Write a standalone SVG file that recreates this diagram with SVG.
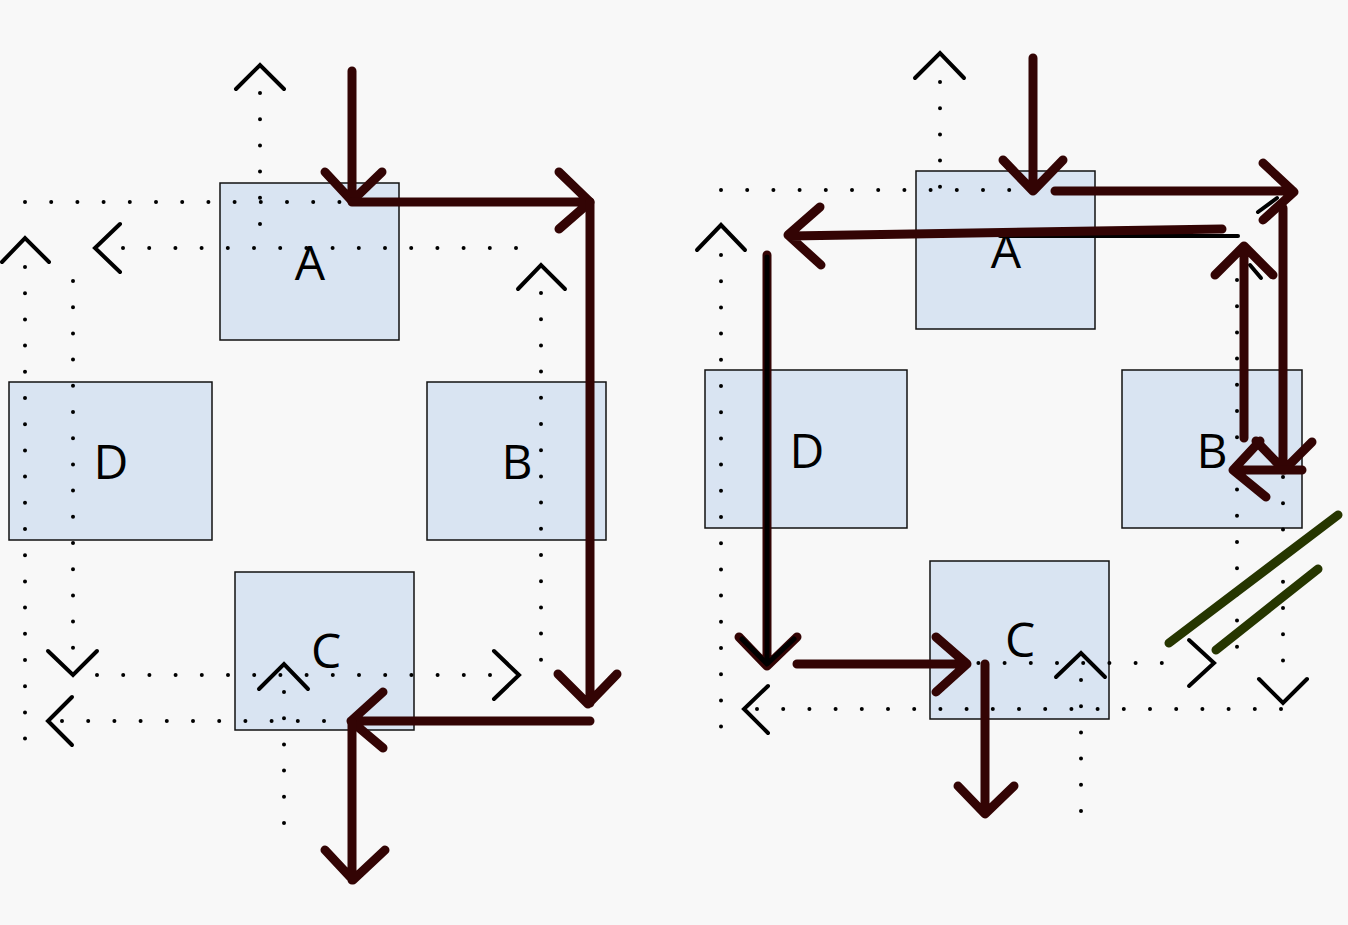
<svg xmlns="http://www.w3.org/2000/svg" width="1348" height="925" viewBox="0 0 1348 925">
<style>
.bg{fill:#f8f8f8}
.box{fill:#d9e4f2;stroke:#111;stroke-width:1.5}
.lbl{font-family:"Open Sans","Liberation Sans",sans-serif;font-size:48px;fill:#000;text-anchor:middle}
.dot{fill:none;stroke:#000;stroke-width:4;stroke-linecap:round;stroke-dasharray:0 26.2}
.chev{fill:none;stroke:#000;stroke-width:4;stroke-linecap:round;stroke-linejoin:miter}
.red{fill:none;stroke:#330404;stroke-width:9;stroke-linecap:round;stroke-linejoin:round}
.blk{fill:none;stroke:#000;stroke-width:4;stroke-linecap:round}
.grn{fill:none;stroke:#263600;stroke-width:9;stroke-linecap:round}
</style>
<rect class="bg" x="0" y="0" width="1348" height="925"/>

<!-- Left diagram nodes -->
<g id="L-A"><rect class="box" x="220" y="183" width="179" height="157"/><text class="lbl" x="310" y="280">A</text></g>
<g id="L-D"><rect class="box" x="9" y="382" width="203" height="158"/><text class="lbl" x="111" y="479">D</text></g>
<g id="L-B"><rect class="box" x="427" y="382" width="179" height="158"/><text class="lbl" x="517" y="479">B</text></g>
<g id="L-C"><rect class="box" x="235" y="572" width="179" height="158"/><text class="lbl" x="326" y="668">C</text></g>

<!-- Right diagram nodes -->
<g id="R-A"><rect class="box" x="916" y="171" width="179" height="158"/><text class="lbl" x="1006" y="268">A</text></g>
<g id="R-D"><rect class="box" x="705" y="370" width="202" height="158"/><text class="lbl" x="807" y="468">D</text></g>
<g id="R-B"><rect class="box" x="1122" y="370" width="180" height="158"/><text class="lbl" x="1212" y="468">B</text></g>
<g id="R-C"><rect class="box" x="930" y="561" width="179" height="158"/><text class="lbl" x="1020" y="657">C</text></g>

<g id="connectors">
  <!-- Left dotted paths -->
  <path class="dot" d="M25 202H590"/>
  <path class="dot" d="M123 248H517"/>
  <path class="dot" d="M260 93V225"/>
  <path class="dot" d="M25 267V740"/>
  <path class="dot" d="M73 281V649"/>
  <path class="dot" d="M97 675H491"/>
  <path class="dot" d="M62 721H590"/>
  <path class="dot" d="M284 692V824"/>
  <path class="dot" d="M541 293V660"/>
  <!-- Left chevrons -->
  <path class="chev" d="M236 89L260 65L284 89"/>
  <path class="chev" d="M120 224L95 248L120 272"/>
  <path class="chev" d="M2 262L25 238L49 262"/>
  <path class="chev" d="M48 651L73 675L97 651"/>
  <path class="chev" d="M72 697L48 721L72 745"/>
  <path class="chev" d="M494 651L519 675L494 699"/>
  <path class="chev" d="M259 689L284 664L308 689"/>
  <path class="chev" d="M518 289L541 265L565 289"/>

  <!-- Left red arrows -->
  <path class="red" d="M352 71V201M325 172L352 201L382 172"/>
  <path class="red" d="M352 202H590M559 172L590 202L559 229"/>
  <path class="red" d="M590 202V703M558 674L588 704L617 674"/>
  <path class="red" d="M590 721H351M383 692L351 721L383 748"/>
  <path class="red" d="M352 722V880M325 850L353 880L385 850"/>

  <!-- Right dotted paths -->
  <path class="dot" d="M721 190H1283"/>
  <path class="dot" d="M940 82V213"/>
  <path class="dot" d="M721 255V728"/>
  <path class="dot" d="M757 709H1283"/>
  <path class="dot" d="M795 663H1187"/>
  <path class="dot" d="M1081 680V813"/>
  <path class="dot" d="M1237 280V648"/>
  <path class="dot" d="M1283 215V675"/>
  <!-- Right chevrons -->
  <path class="chev" d="M915 78L940 53L964 78"/>
  <path class="chev" d="M697 250L721 225L745 250"/>
  <path class="chev" d="M768 686L744 709L768 733"/>
  <path class="chev" d="M1056 677L1081 653L1105 677"/>
  <path class="chev" d="M1189 640L1214 663L1189 686"/>
  <path class="chev" d="M1259 679L1283 703L1307 679"/>

  <!-- Right black shadow strokes -->
  <path class="blk" d="M1000 236H1238"/>
  <path class="blk" d="M1258 212L1277 198"/>
  <path class="blk" d="M1250 265L1261 278"/>

  <!-- Right red arrows -->
  <path class="red" d="M1033 58V190M1003 160L1033 191L1063 160"/>
  <path class="red" d="M1055 191H1293M1263 163L1294 192L1263 220"/>
  <path class="red" d="M1222 229L790 236M820 207L788 235L821 265"/>
  <path class="red" d="M1244 438V247M1215 275L1244 246L1273 275"/>
  <path class="red" d="M1283 208V470M1256 441L1284 470L1312 442"/>
  <path class="red" d="M1302 470H1234M1260 441L1233 470L1266 497"/>
  <path class="red" d="M767 255V664M739 637L767 666L797 637"/>
  <path d="M767 257V662M742 639L767 664L794 639" fill="none" stroke="#000" stroke-width="5" stroke-linecap="round" stroke-linejoin="round"/>
  <path class="red" d="M797 664H965M936 637L967 664L936 692"/>
  <path class="red" d="M985 664V813M958 786L985 814L1014 786"/>

  <!-- Green strike lines -->
  <path class="grn" d="M1169 643L1338 515"/>
  <path class="grn" d="M1216 650L1318 569"/>
</g>
</svg>
